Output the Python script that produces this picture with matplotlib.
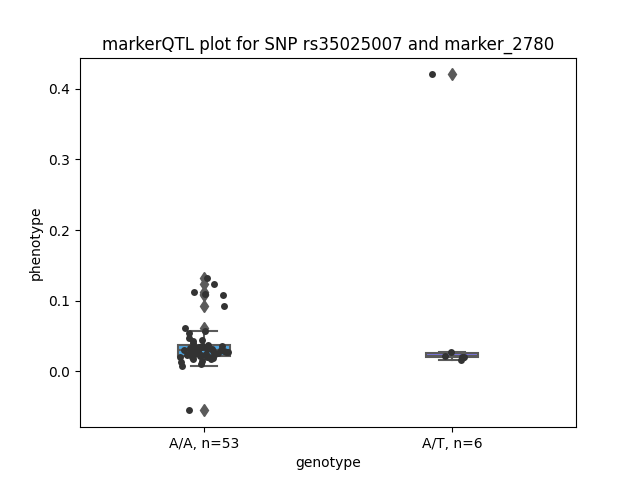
import numpy as np
import matplotlib
matplotlib.use("Agg")
import matplotlib.pyplot as plt
import seaborn as sns

# phenotype values per genotype
aa_values = [0.132, 0.123, 0.113, 0.110, 0.108, 0.093, 0.062, -0.055,
             0.008, 0.011, 0.013, 0.015, 0.017, 0.018, 0.019, 0.020, 0.020,
             0.021, 0.021, 0.022, 0.022, 0.023, 0.024, 0.024, 0.025, 0.026,
             0.026, 0.027, 0.027, 0.028, 0.028, 0.029, 0.029, 0.030, 0.031,
             0.031, 0.032, 0.032, 0.033, 0.033, 0.034, 0.034, 0.035, 0.035,
             0.036, 0.036, 0.037, 0.040, 0.043, 0.045, 0.047, 0.055, 0.057]
at_values = [0.420, 0.027, 0.022, 0.021, 0.021, 0.016]
labels = ["A/A, n=53", "A/T, n=6"]
box_colors = ["#4ea4de", "#7a74dc"]

fig, ax = plt.subplots(figsize=(6.4, 4.8), dpi=100)

bp = ax.boxplot([aa_values, at_values], positions=[0, 1], widths=0.21,
                patch_artist=True, manage_ticks=False,
                boxprops=dict(edgecolor="#5a5a5a", linewidth=1.5),
                whiskerprops=dict(color="#5a5a5a", linewidth=1.5),
                capprops=dict(color="#5a5a5a", linewidth=1.5),
                medianprops=dict(color="#5a5a5a", linewidth=1.5),
                flierprops=dict(marker="d", markerfacecolor="#5a5a5a",
                                markeredgecolor="#5a5a5a", markersize=6))
for patch, c in zip(bp["boxes"], box_colors):
    patch.set_facecolor(c)

np.random.seed(3)
x = [0] * len(aa_values) + [1] * len(at_values)
y = aa_values + at_values
sns.stripplot(x=x, y=y, native_scale=True, jitter=0.1, color="#333333",
              size=5, ax=ax)

ax.set_xticks([0, 1])
ax.set_xticklabels(labels)
ax.set_xlim(-0.5, 1.5)
ax.set_xlabel("genotype")
ax.set_ylabel("phenotype")
ax.set_title("markerQTL plot for SNP rs35025007 and marker_2780")

plt.savefig("out.png")
